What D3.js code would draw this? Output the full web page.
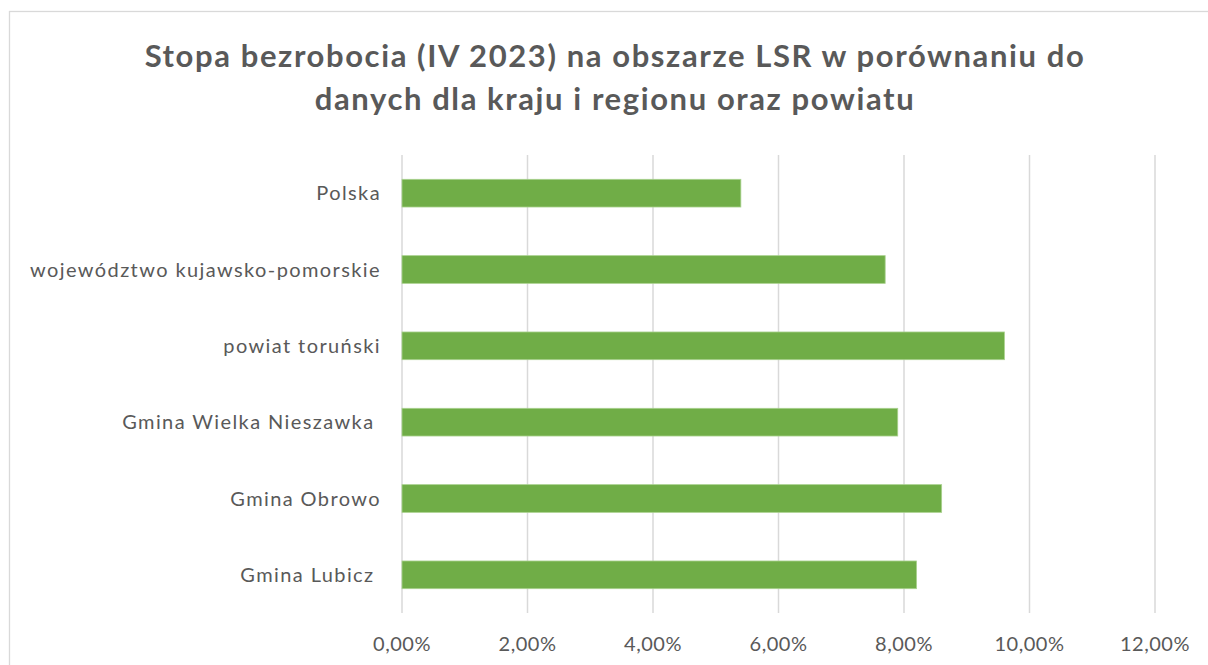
<!DOCTYPE html>
<html>
<head>
    <meta charset="utf-8">
    <script src="https://d3js.org/d3.v7.min.js"></script>
    <style>
        body {
            margin: 0;
            background: #ffffff;
        }
        text {
            font-family: Lato, "Open Sans", sans-serif;
            fill: #595959;
        }
        .title {
            font-size: 31px;
            font-weight: bold;
            letter-spacing: 1.6px;
            text-anchor: middle;
        }
        .catlabel {
            font-size: 20px;
            letter-spacing: 1.4px;
            text-anchor: end;
            white-space: pre;
        }
        .ticklabel {
            font-size: 20px;
            letter-spacing: 0.5px;
            text-anchor: middle;
        }
        .grid line {
            stroke: #d9d9d9;
            stroke-width: 1.5;
        }
        .bar {
            fill: #70ad47;
            stroke: #a9d18e;
            stroke-width: 0.8;
        }
    </style>
</head>
<body>
<script type="text/javascript">

    // Chart data
    var titleLines = ["Stopa bezrobocia (IV 2023) na obszarze LSR w porównaniu do",
                      "danych dla kraju i regionu oraz powiatu"];
    var categories = ["Polska", "województwo kujawsko-pomorskie", "powiat toruński",
                      "Gmina Wielka Nieszawka ", "Gmina Obrowo", "Gmina Lubicz "];
    var rates = [0.054, 0.077, 0.096, 0.079, 0.086, 0.082];
    var tickValues = [0, 0.02, 0.04, 0.06, 0.08, 0.10, 0.12];

    var totalWidth = 1208, totalHeight = 665;
    var margins = { left: 402, top: 155, right: 53, bottom: 52 };
    var graphWidth = totalWidth - margins.left - margins.right;
    var graphHeight = totalHeight - margins.top - margins.bottom;

    var pl = d3.formatLocale({ decimal: ",", thousands: " ", grouping: [3], currency: ["", " zł"] });
    var pct = pl.format(".2%");

    var svg = d3.select("body")
                .append("svg")
                .attr("width", totalWidth)
                .attr("height", totalHeight);

    // Chart frame
    svg.append("rect")
       .attr("x", 9.5)
       .attr("y", 11.5)
       .attr("width", 1212)
       .attr("height", 680)
       .attr("fill", "none")
       .attr("stroke", "#d9d9d9")
       .attr("stroke-width", 1.3);

    // Title
    svg.selectAll(".title")
       .data(titleLines)
       .enter().append("text")
       .attr("class", "title")
       .attr("x", 615)
       .attr("y", function(d, i) { return 67 + i * 43; })
       .text(function(d) { return d; });

    var g = svg.append("g")
               .attr("transform", "translate(" + margins.left + "," + margins.top + ")");

    // Scales
    var x = d3.scaleLinear().domain([0, 0.12]).range([0, graphWidth]);
    var y = d3.scaleBand().domain(categories).range([0, graphHeight])
              .paddingInner(0.637).paddingOuter(0.3185);

    // Gridlines
    g.append("g")
     .attr("class", "grid")
     .selectAll("line")
     .data(tickValues)
     .enter().append("line")
     .attr("x1", function(d) { return x(d); })
     .attr("x2", function(d) { return x(d); })
     .attr("y1", 0)
     .attr("y2", graphHeight);

    // Tick labels
    g.selectAll(".ticklabel")
     .data(tickValues)
     .enter().append("text")
     .attr("class", "ticklabel")
     .attr("x", function(d) { return x(d); })
     .attr("y", graphHeight + 38)
     .text(function(d) { return pct(d); });

    // Bars
    g.selectAll(".bar")
     .data(rates)
     .enter().append("rect")
     .attr("class", "bar")
     .attr("x", x(0))
     .attr("y", function(d, i) { return y(categories[i]); })
     .attr("width", function(d) { return x(d) - x(0); })
     .attr("height", y.bandwidth());

    // Category labels
    g.selectAll(".catlabel")
     .data(categories)
     .enter().append("text")
     .attr("class", "catlabel")
     .attr("x", -21)
     .attr("y", function(d) { return y(d) + y.bandwidth() / 2; })
     .attr("dy", "0.35em")
     .text(function(d) { return d; });

</script>
</body>
</html>
